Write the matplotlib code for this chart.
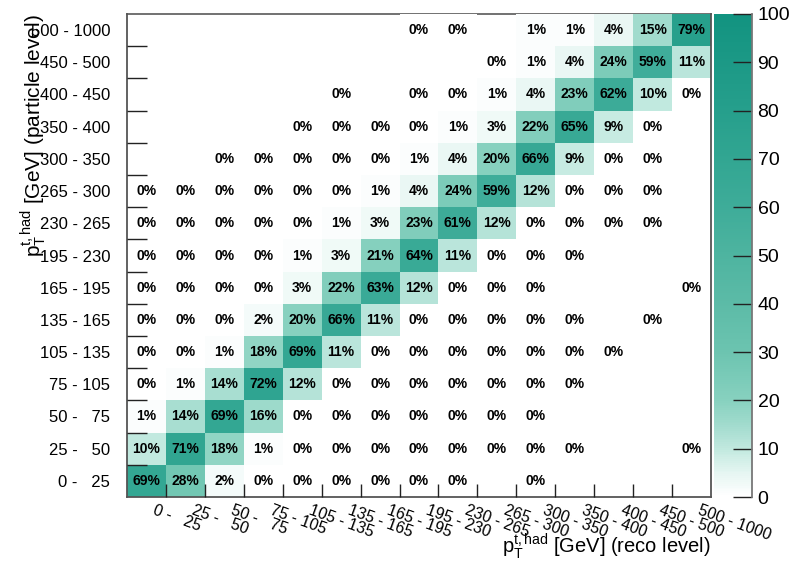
import numpy as np
import matplotlib
matplotlib.use("Agg")
import matplotlib.pyplot as plt
from matplotlib.colors import LinearSegmentedColormap
from matplotlib.transforms import ScaledTranslation

plt.rcParams['font.family'] = ['Liberation Sans', 'DejaVu Sans']
plt.rcParams['mathtext.fontset'] = 'custom'
plt.rcParams['mathtext.rm'] = 'Liberation Sans'
plt.rcParams['mathtext.it'] = 'Liberation Sans:italic'

N = None

# bin labels (same binning on both axes)
bin_labels = ["0 -   25", "25 -   50", "50 -   75", "75 - 105", "105 - 135",
              "135 - 165", "165 - 195", "195 - 230", "230 - 265", "265 - 300",
              "300 - 350", "350 - 400", "400 - 450", "450 - 500", "500 - 1000"]

# migration in percent, one list per particle-level bin, columns = reco-level bins
row_0_25 = [69, 28, 2, 0, 0, 0, 0, 0, 0, N, 0, N, N, N, N]
row_25_50 = [10, 71, 18, 1, 0, 0, 0, 0, 0, 0, 0, 0, N, N, 0]
row_50_75 = [1, 14, 69, 16, 0, 0, 0, 0, 0, 0, 0, N, N, N, N]
row_75_105 = [0, 1, 14, 72, 12, 0, 0, 0, 0, 0, 0, 0, N, N, N]
row_105_135 = [0, 0, 1, 18, 69, 11, 0, 0, 0, 0, 0, 0, 0, N, N]
row_135_165 = [0, 0, 0, 2, 20, 66, 11, 0, 0, 0, 0, 0, N, 0, N]
row_165_195 = [0, 0, 0, 0, 3, 22, 63, 12, 0, 0, 0, N, N, N, 0]
row_195_230 = [0, 0, 0, 0, 1, 3, 21, 64, 11, 0, 0, 0, N, N, N]
row_230_265 = [0, 0, 0, 0, 0, 1, 3, 23, 61, 12, 0, 0, 0, 0, N]
row_265_300 = [0, 0, 0, 0, 0, 0, 1, 4, 24, 59, 12, 0, 0, 0, N]
row_300_350 = [N, N, 0, 0, 0, 0, 0, 1, 4, 20, 66, 9, 0, 0, N]
row_350_400 = [N, N, N, N, 0, 0, 0, 0, 1, 3, 22, 65, 9, 0, N]
row_400_450 = [N, N, N, N, N, 0, N, 0, 0, 1, 4, 23, 62, 10, 0]
row_450_500 = [N, N, N, N, N, N, N, N, N, 0, 1, 4, 24, 59, 11]
row_500_1000 = [N, N, N, N, N, N, N, 0, 0, N, 1, 1, 4, 15, 79]

rows = [row_0_25, row_25_50, row_50_75, row_75_105, row_105_135, row_135_165,
        row_165_195, row_195_230, row_230_265, row_265_300, row_300_350,
        row_350_400, row_400_450, row_450_500, row_500_1000]

Z = np.array([[np.nan if v is None else v for v in r] for r in rows], dtype=float)
Zm = np.ma.masked_invalid(Z)

cmap = LinearSegmentedColormap.from_list("teal", [
    (0.00, (1.0, 1.0, 1.0)),
    (0.05, (228/255, 245/255, 241/255)),
    (0.10, (192/255, 232/255, 222/255)),
    (0.15, (160/255, 219/255, 205/255)),
    (0.20, (135/255, 209/255, 191/255)),
    (0.30, (108/255, 196/255, 176/255)),
    (0.40, (92/255, 187/255, 167/255)),
    (0.50, (78/255, 180/255, 160/255)),
    (0.60, (62/255, 172/255, 153/255)),
    (0.70, (50/255, 166/255, 146/255)),
    (0.80, (38/255, 159/255, 140/255)),
    (0.90, (28/255, 153/255, 134/255)),
    (1.00, (18/255, 147/255, 128/255)),
])

W, H = 804, 566
fig = plt.figure(figsize=(W / 100, H / 100), dpi=100)
ax = fig.add_axes([127 / W, 1 - 497 / H, (711 - 127) / W, (497 - 14) / H])
cax = fig.add_axes([714 / W, 1 - 497 / H, 38 / W, (497 - 14) / H])

nb = len(bin_labels)
edges = np.arange(nb + 1)
mesh = ax.pcolormesh(edges, edges, Zm, cmap=cmap, vmin=0, vmax=100, zorder=3)

for i in range(nb):
    for j in range(nb):
        if not np.isnan(Z[i, j]):
            ax.text(j + 0.5, i + 0.5, f"{int(Z[i, j])}%", ha='center', va='center',
                    fontsize=10, fontweight='bold', zorder=5)

ax.set_xlim(0, nb)
ax.set_ylim(0, nb)

# y labels at bin centres, ticks at bin edges
ax.set_yticks(np.arange(nb) + 0.5)
ax.set_yticklabels(bin_labels, fontsize=12)
ax.set_xticks([])
ax.set_xticks(np.arange(1, nb), minor=True)
ax.set_yticks(np.arange(1, nb), minor=True)

# slanted x labels, drawn as texts so they can be shifted
xoff = ax.get_xaxis_transform() + ScaledTranslation(10 / 100, -6 / 100, fig.dpi_scale_trans)
for j, lab in enumerate(bin_labels):
    ax.text(j + 0.5, 0, lab, transform=xoff, fontsize=11.5, rotation=-20,
            rotation_mode='anchor', ha='left', va='top', clip_on=False)

ax.tick_params(axis='both', which='major', length=0)
ax.tick_params(axis='y', which='major', pad=12)
ax.tick_params(axis='x', which='minor', direction='in', length=9.4, width=1, color='#222222')
ax.tick_params(axis='y', which='minor', direction='in', length=14.4, width=1, color='#222222')
ax.xaxis.set_zorder(4)
ax.yaxis.set_zorder(4)

for side in ['left', 'bottom', 'right']:
    ax.spines[side].set_color('#555555')
    ax.spines[side].set_linewidth(1.3)
    ax.spines[side].set_zorder(4)
ax.spines['top'].set_color('#666666')
ax.spines['top'].set_linewidth(1.3)
ax.spines['top'].set_zorder(2.5)

cb = fig.colorbar(mesh, cax=cax, ticks=np.arange(0, 101, 10))
cb.outline.set_visible(False)
cax.tick_params(direction='in', length=13.7, width=1, color='#222222', labelsize=14, pad=4)
cax.plot([1, 1], [0, 1], transform=cax.transAxes, color='#777777', lw=1.3, clip_on=False)

fig.text(710 / W, 13 / H, r'$\mathrm{p}_{\mathrm{T}}^{\mathrm{t,had}}$ [GeV] (reco level)',
         ha='right', va='baseline', fontsize=14.5)
fig.text(41 / W, 1 - 14 / H, r'$\mathrm{p}_{\mathrm{T}}^{\mathrm{t,had}}$ [GeV] (particle level)',
         ha='right', va='baseline', rotation=90, rotation_mode='anchor', fontsize=15)

fig.savefig("out.png", dpi=100)
